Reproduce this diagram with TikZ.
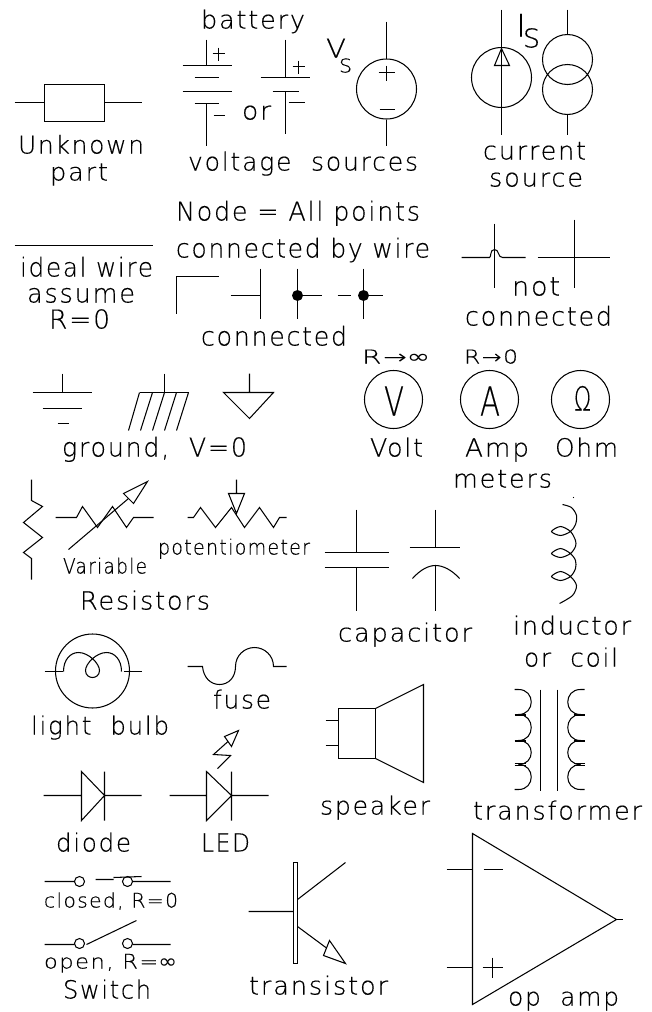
\documentclass[tikz,border=0pt]{standalone}
\usepackage{fontspec}
\usepackage{graphicx}
\setmainfont[LetterSpace=7,FakeBold=0.35,Ligatures=NoCommon]{DejaVu Sans ExtraLight}
\newfontfamily\symfont{DejaVu Sans}
\newsavebox\labbox
\newcommand\lab[6]{%
  \node[anchor=base west,inner sep=0pt] (#1) at (#2,#4) {\sbox\labbox{\fontsize{#5pt}{#5pt}\selectfont #6}%
  \pgfmathsetmacro\labs{(#3-#2)/\the\wd\labbox}%
  \scalebox{\labs}[1]{\usebox\labbox}};}
\tikzset{wire/.style={line width=1.05pt,black,line join=miter},
  thicktick/.style={line width=2pt,black},
  joint/.style={fill=black,draw=none}}
\begin{document}
\begin{tikzpicture}[x=1pt,y=-1pt,wire]
\useasboundingbox (0,0) rectangle (652,1012);
\begin{scope}[shift={(0.5,0.5)}]
% Unknown part
\draw (14,102)--(44,102) (104,102)--(141,102);
\draw (44,84) rectangle (104,121);
\lab{unknown}{17}{143}{153}{24.5}{Unknown}
\lab{part}{49}{107}{180}{24.5}{part}
% batteries
\lab{battery}{200}{304}{28}{25}{battery}
\draw (206,39)--(206,65) (182,65)--(231,65) (194,77)--(218,77) (182,91)--(231,91) (194,103)--(218,103) (206,103)--(206,145);
\draw (218,47)--(218,60) (212,53)--(224,53) (213,115)--(224,115);
\draw (285,39)--(285,77) (260,77)--(309,77) (272,91)--(298,91) (285,91)--(285,133);
\draw (298,60)--(298,73) (292,66)--(304,66) (288,102)--(304,102);
\lab{or}{241}{270}{119}{25}{or}
\lab{voltsrc}{187}{417}{170}{25}{voltage\ \ sources}
% voltage source
\lab{vv}{325}{345}{57}{26}{V}
\lab{vs}{338}{351}{72}{19}{S}
\draw (386,88.5) circle (30);
\draw (386,21)--(386,58) (386,119)--(386,145);
\draw (386,65)--(386,80) (378,72)--(394,72) (379,109)--(394,109);
% current source
\draw (501,77) circle (30);
\draw (501,9)--(501,134);
\draw (501,48)--(509,65)--(494,65)--cycle;
\lab{ii}{515}{525}{36}{31}{I}
\lab{is}{522}{539}{47}{26}{S}
\draw (567,59) circle (25) (567,89) circle (25);
\draw (567,9)--(567,34) (567,114)--(567,134);
\lab{current}{482}{585}{159}{25}{current}
\lab{source}{488}{582}{186}{25}{source}
% node text
\lab{nodeeq}{175}{419}{220}{26}{Node = All points}
\lab{connby}{175}{429}{257}{26}{connected by wire}
% ideal wire
\draw (14,245)--(152,245);
\lab{ideal}{19}{152}{276}{26}{ideal wire}
\lab{assume}{26}{134}{302}{26}{assume}
\lab{rzero}{48}{109}{328}{26}{R=0}
% connected
\draw (176,313)--(176,276)--(218,276);
\draw (260,268)--(260,318) (230,295)--(260,295);
\draw (297,268)--(297,318) (297,295)--(321,295);
\fill[joint] (297,295) circle (5.5);
\draw (363,268)--(363,318) (337,295)--(350,295) (363,295)--(382,295);
\fill[joint] (363,295) circle (5.5);
\lab{conn}{200}{346}{345}{26}{connected}
% not connected
\draw (494,223)--(494,287);
\draw (461,257)--(489,257) .. controls (491,257) and (489,249) .. (494,249) .. controls (499,249) and (497,257) .. (502,257)--(525,257);
\draw (574,219)--(574,287) (537,257)--(609,257);
\lab{not}{511}{559}{295}{26}{not}
\lab{notconn}{464}{611}{325}{26}{connected}
% ground
\draw (62,373)--(62,392) (32,392)--(91,392) (42,408)--(81,408) (57,423)--(68,423);
\draw (164,373)--(164,392) (139,392)--(188,392);
\draw (139,392)--(128,430) (152,392)--(140,430) (164,392)--(152,430) (176,392)--(164,430) (188,392)--(176,430);
\draw (249,373)--(249,392) (223,392)--(273,392)--(249,418)--cycle;
\lab{ground}{61}{246}{456}{26}{ground,\ \ V=0}
% meters
\lab{rinf}{361}{429}{363}{19}{R→{\symfont ∞}}
\lab{rz}{463}{517}{363}{19}{R→0}
\draw (393,399) circle (29) (489,399) circle (29) (580,399) circle (29);
\lab{mv}{383}{403}{415}{40}{V}
\lab{ma}{479}{499}{415}{40}{A}
\lab{mo}{573}{590}{410}{33}{Ω}
\lab{volt}{369}{422}{456}{25}{Volt}
\lab{amp}{464}{528}{456}{25}{Amp}
\lab{ohm}{554}{617}{456}{25}{Ohm}
\lab{meters}{452}{551}{487}{25}{meters}
% resistors
\draw (31,479)--(31,500)--(42,506)--(23,522)--(42,537)--(23,552)--(31,558)--(31,579);
\draw (55,517)--(76,517)--(82,506)--(97,527)--(112,506)--(126,527)--(133,517)--(153,517);
\draw (68,549)--(128,498);
\draw (147,481)--(123,493)--(133,503)--cycle;
\lab{variable}{62}{146}{573}{21}{Variable}
\draw (187,517)--(193,517)--(200,507)--(215,527)--(231,507)--(244,527)--(259,507)--(273,527)--(279,517)--(286,517);
\draw (236,479)--(236,493) (228,493)--(244,493)--(236,513)--cycle;
\lab{pot}{157}{309}{554}{21}{potentiometer}
\lab{resistors}{79}{209}{609}{25}{Resistors}
% capacitors
\draw (356,509)--(356,552) (324,552)--(388,552) (324,567)--(388,567) (356,567)--(356,610);
\draw (435,509)--(435,547) (409,547)--(459,547) (435,565)--(435,610);
\draw (412,578) .. controls (420,569) and (428,565) .. (435,565) .. controls (442,565) and (451,569) .. (459,578);
\lab{capacitor}{337}{471}{641}{25}{capacitor}
% inductor
\draw plot[smooth] coordinates {(562,504) (571,507) (576,515) (575,524) (570,531) (560,535) (551,531) (560,526) (570,531) (575,540) (575,546) (570,553) (560,557) (551,553) (560,548) (570,553) (575,560) (575,568) (570,576) (560,580) (551,576) (560,571) (570,576) (576,585) (572,595) (559,603)};
\fill[joint] (573,497) circle (0.7);
\lab{inductor}{512}{630}{634}{25}{inductor}
\lab{orcoil}{523}{617}{666}{25}{or\ \ coil}
% light bulb
\draw (92,670.5) circle (37);
\draw (44,671)--(62,671) (123,671)--(141,671);
\draw (63,671) .. controls (63,659) and (70,652) .. (78,652) .. controls (88,652) and (99,663) .. (99,670) .. controls (99,675) and (95,677) .. (92,677) .. controls (89,677) and (85,675) .. (85,670) .. controls (85,663) and (96,652) .. (106,652) .. controls (114,652) and (121,659) .. (121,671);
\lab{bulb}{30}{168}{734}{25}{light\ \ bulb}
% fuse
\draw (187,666)--(202,666) .. controls (203,677) and (210,684) .. (219,684) .. controls (228,684) and (235,677) .. (235,666) .. controls (235,655) and (244,647) .. (254,647) .. controls (264,647) and (273,655) .. (273,666)--(286,666);
\lab{fuse}{212}{270}{708}{25}{fuse}
% diode
\draw (43,795)--(81,795) (104,795)--(141,795) (81,771)--(81,820)--(104,795)--cycle (104,771)--(104,820);
\lab{diode}{55}{130}{851}{25}{diode}
% LED
\draw (169,795)--(206,795) (231,795)--(268,795) (206,771)--(206,820)--(231,795)--cycle (231,771)--(231,820);
\draw (217,768)--(230,755)--(213,754)--(227.5,741);
\draw (238,730)--(224,736)--(231,746)--cycle;
\lab{led}{200}{249}{851}{25}{LED}
% switches
\draw (44,881)--(74,881) (132,881)--(170,881) (95,879)--(113,879) (113,877)--(141,876);
\draw (79,881) circle (5) (127,881) circle (5);
\lab{closed}{43}{177}{907}{20}{closed,\ R=0}
\draw (44,944)--(74,944) (132,944)--(170,944) (86,944)--(136,920);
\draw (79,943) circle (5) (127,943) circle (5);
\lab{open}{43}{176}{968}{20}{open,\ R={\symfont ∞}}
\lab{switch}{62}{150}{998}{25}{Switch}
% transistor
\draw (293,862) rectangle (297,963);
\draw (248,911)--(293,911) (297,899)--(345,862) (297,926)--(326,947.5);
\draw (345,963)--(329,940)--(323,955)--cycle;
\lab{transistor}{248}{387}{994}{25}{transistor}
% speaker
\draw (325,720)--(338,720) (325,745)--(338,745);
\draw (338,708) rectangle (375,758);
\draw (375,708)--(423,684)--(423,782)--(375,758);
\lab{speaker}{319}{429}{814}{25}{speaker}
% transformer
\draw (540,689)--(540,790) (557,689)--(557,790);
\draw (514,689)--(518,689) .. controls (535,689) and (535,714) .. (518,714);
\draw (518,714) .. controls (535,714) and (535,740) .. (518,740);
\draw (518,740) .. controls (535,740) and (535,764) .. (518,764);
\draw (518,764) .. controls (535,764) and (535,789) .. (518,789)--(514,789);
\draw[thicktick] (514,714)--(525,714) (514,740)--(525,740);
\draw (514,763)--(525,763) (514,765)--(525,765);
\draw (584,689)--(580,689) .. controls (563,689) and (563,714) .. (580,714);
\draw (580,714) .. controls (563,714) and (563,740) .. (580,740);
\draw (580,740) .. controls (563,740) and (563,764) .. (580,764);
\draw (580,764) .. controls (563,764) and (563,789) .. (580,789)--(584,789);
\draw[thicktick] (573,714)--(584,714) (573,740)--(584,740);
\draw (573,763)--(584,763) (573,765)--(584,765);
\lab{transformer}{472}{641}{819}{25}{transformer}
% op amp
\draw (472,833)--(616,919)--(472,1004)--cycle;
\draw (616,919)--(622,919) (446,869)--(472,869) (446,967)--(472,967);
\draw (483,869)--(502,869) (492,957)--(492,977) (482,967)--(502,967);
\lab{opamp}{507}{618}{1005}{25}{op\ \ amp}
\end{scope}
\end{tikzpicture}
\end{document}
